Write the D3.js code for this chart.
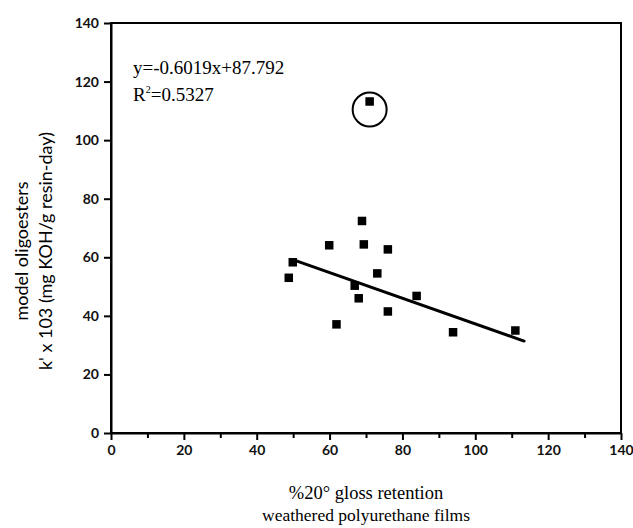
<!DOCTYPE html>
<html>
<head>
<meta charset="utf-8">
<script src="https://cdn.jsdelivr.net/npm/d3@7"></script>
<style>
  body { margin: 0; background: #fff; }
  svg { display: block; }
</style>
</head>
<body>
<svg id="chart"></svg>
<script>
// %20 gloss retention (x) vs rate constant (y)
const glossRetention = [48.8, 49.9, 59.9, 61.9, 66.9, 68.0, 68.9, 69.4, 73.1, 76.0, 76.0, 83.9, 93.9, 111.0]
const rateConstant = [53.0, 58.3, 64.1, 37.1, 50.3, 46.0, 72.4, 64.4, 54.5, 62.7, 41.5, 46.8, 34.4, 35.0]

// outlier, circled
const outlierX = [71.0]
const outlierY = [113.2]

// regression line as drawn
const fitX = [50.1, 113.4]
const fitY = [59.1, 31.4]

const xTicks = [0, 20, 40, 60, 80, 100, 120, 140]
const xMinorTicks = [10, 30, 50, 70, 90, 110, 130]
const yTicks = [0, 20, 40, 60, 80, 100, 120, 140]

const width = 633
const height = 528
const margin = { top: 23, right: 12, bottom: 95, left: 111 }

let svg = d3.select('#chart')
  .attr('width', width)
  .attr('height', height)

let x = d3.scaleLinear().domain([0, 140]).range([margin.left, width - margin.right])
let y = d3.scaleLinear().domain([0, 140]).range([height - margin.bottom, margin.top])

let tickFont = 'Lato, sans-serif'
let serifFont = '"Liberation Serif", "Times New Roman", serif'

// frame
svg.append('rect')
  .attr('x', x(0))
  .attr('y', y(140))
  .attr('width', x(140) - x(0))
  .attr('height', y(0) - y(140))
  .attr('fill', 'none')
  .attr('stroke', '#000')
  .attr('stroke-width', 2)

// x axis
let gx = svg.append('g')
  .attr('transform', 'translate(0,' + y(0) + ')')
  .call(d3.axisBottom(x).tickValues(xTicks).tickSize(7).tickSizeOuter(0).tickPadding(5))
gx.append('g')
  .call(d3.axisBottom(x).tickValues(xMinorTicks).tickSize(5).tickSizeOuter(0).tickFormat(''))
  .select('.domain').remove()

// y axis
let gy = svg.append('g')
  .attr('transform', 'translate(' + x(0) + ',0)')
  .call(d3.axisLeft(y).tickValues(yTicks).tickSize(7).tickSizeOuter(0).tickPadding(5))

svg.selectAll('.domain').attr('stroke-width', 2)
svg.selectAll('.tick line').attr('stroke-width', 2)
svg.selectAll('.tick text')
  .attr('font-family', tickFont)
  .attr('font-size', 14)
  .attr('font-weight', 'bold')
  .attr('fill', '#111')

// regression line
let line = d3.line()
  .x(d => x(d[0]))
  .y(d => y(d[1]))
svg.append('path')
  .attr('d', line(d3.zip(fitX, fitY)))
  .attr('stroke', '#000')
  .attr('stroke-width', 3)
  .attr('stroke-linecap', 'round')
  .attr('fill', 'none')

// points
let s = 8.5
svg.append('g')
  .selectAll('rect')
  .data(d3.zip(glossRetention, rateConstant).concat(d3.zip(outlierX, outlierY)))
  .enter()
  .append('rect')
  .attr('x', d => x(d[0]) - s / 2)
  .attr('y', d => y(d[1]) - s / 2)
  .attr('width', s)
  .attr('height', s)
  .attr('fill', '#000')

// circle round the outlier (centre a little below the point)
svg.append('circle')
  .attr('cx', x(outlierX[0]))
  .attr('cy', y(outlierY[0]) + 8)
  .attr('r', 17)
  .attr('fill', 'none')
  .attr('stroke', '#000')
  .attr('stroke-width', 2)

// equation
svg.append('text')
  .attr('x', 133)
  .attr('y', 74)
  .attr('font-family', serifFont)
  .attr('font-size', 19)
  .text('y=-0.6019x+87.792')

let r2 = svg.append('text')
  .attr('x', 133)
  .attr('y', 101)
  .attr('font-family', serifFont)
  .attr('font-size', 19)
r2.append('tspan').text('R')
r2.append('tspan').attr('font-size', 10).attr('dy', -8).text('2')
r2.append('tspan').attr('dy', 8).text('=0.5327')

// x title
let xMid = (x(0) + x(140)) / 2
svg.append('text')
  .attr('x', xMid)
  .attr('y', 499)
  .attr('text-anchor', 'middle')
  .attr('font-family', serifFont)
  .attr('font-size', 18.5)
  .text('%20° gloss retention')
svg.append('text')
  .attr('x', xMid)
  .attr('y', 521)
  .attr('text-anchor', 'middle')
  .attr('font-family', serifFont)
  .attr('font-size', 17.5)
  .text('weathered polyurethane films')

// y title
let yMid = 251
svg.append('text')
  .attr('transform', 'translate(28,' + yMid + ') rotate(-90)')
  .attr('text-anchor', 'middle')
  .attr('font-family', tickFont)
  .attr('font-size', 18)
  .text('model oligoesters')
svg.append('text')
  .attr('transform', 'translate(52,' + yMid + ') rotate(-90)')
  .attr('text-anchor', 'middle')
  .attr('font-family', tickFont)
  .attr('font-size', 18)
  .text("k' x 103 (mg KOH/g resin-day)")
</script>
</body>
</html>
